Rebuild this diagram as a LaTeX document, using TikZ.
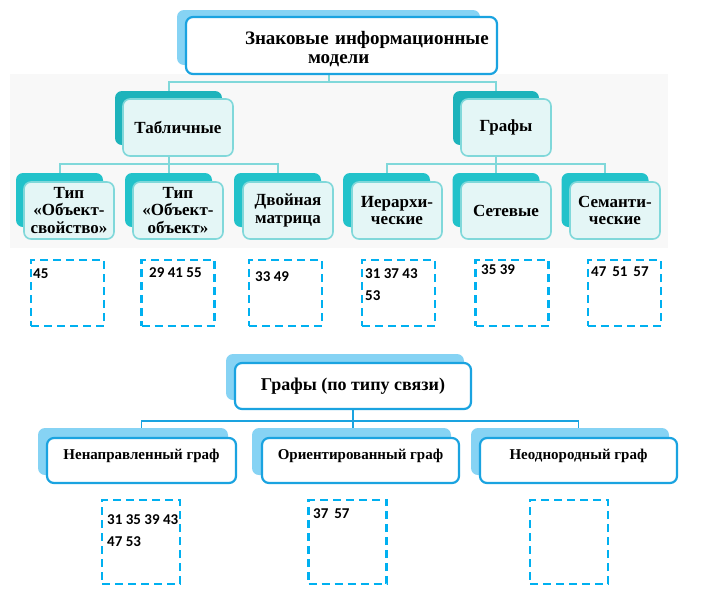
\documentclass[tikz,border=0pt]{standalone}
\usepackage{fontspec}
\setmainfont{Liberation Serif}
\newfontfamily\numfont{Carlito}
\usetikzlibrary{positioning,backgrounds}
\definecolor{cSky}{HTML}{86D3F4}
\definecolor{cBlue}{HTML}{1AA3E0}
\definecolor{cTealD}{HTML}{1DB3BB}
\definecolor{cTeal}{HTML}{22C2CA}
\definecolor{cTealL}{HTML}{80D8DA}
\definecolor{cIce}{HTML}{E4F6F6}
\definecolor{cDash}{HTML}{00B0F0}
\definecolor{cBand}{HTML}{F8F8F8}
\tikzset{
  box/.style    = {rectangle, rounded corners=7pt, inner sep=0pt, align=center},
  skyb/.style   = {box, fill=cSky},
  headb/.style  = {box, fill=white, draw=cBlue, line width=2.2pt},
  tealb/.style  = {box, fill=cTealD, minimum height=54pt},
  teal2b/.style = {box, fill=cTeal, minimum width=87pt, minimum height=54pt},
  iceb/.style   = {box, fill=cIce, draw=cTealL, line width=1.6pt,
                   minimum height=57pt, font=\fontsize{17}{17.5}\selectfont\bfseries},
  leafb/.style  = {iceb, minimum width=90pt},
  kindb/.style  = {headb, minimum width=197pt, minimum height=45pt,
                   text height=12pt, text depth=15pt,
                   font=\fontsize{15}{17}\selectfont\bfseries},
  slot/.style   = {rectangle, draw=cDash, line width=2.4pt,
                   dash pattern=on 8pt off 5pt, inner sep=0pt},
  num/.style    = {anchor=west, inner sep=0pt, align=left,
                   font=\numfont\bfseries\fontsize{15}{18}\selectfont},
  con/.style    = {draw=cTealL, line width=2pt},
  bcon/.style   = {draw=cBlue, line width=1.5pt},
}
\begin{document}
\begin{tikzpicture}[x=1pt, y=-1pt]
  \useasboundingbox (0,0) rectangle (705,590);

  % upper tree
  \node[skyb, minimum width=303pt, minimum height=55pt] (topB) at (328.5,37.5) {};
  \node[headb, minimum width=311pt, minimum height=57pt, text width=311pt, align=left,
        font=\fontsize{19}{19}\selectfont\bfseries] (top) at (341.5,45.5)
        {\rule{0pt}{21pt}\hspace*{59pt}Знаковые информационные\\\hspace*{122pt}модели};

  \node[tealb, minimum width=107pt] (tabB) at (168.5,118) {};
  \node[iceb, minimum width=110pt] (tab) at (178,127.5) {Табличные};
  \node[tealb, minimum width=86pt] (grB) at (496,118) {};
  \node[iceb, minimum width=90pt] (gr) at (506,127.5) {Графы};

  \node[teal2b] (b1) at (59.5,200) {};
  \node[leafb] (l1) at (69,210.5) {Тип\\«Объект-\\свойство»};
  \node[teal2b] (b2) at (168.5,200) {};
  \node[leafb] (l2) at (178,210.5) {Тип\\«Объект-\\объект»};
  \node[teal2b] (b3) at (277.5,200) {};
  \node[leafb] (l3) at (288,210.5) {Двойная\\матрица};
  \node[teal2b] (b4) at (386.5,200) {};
  \node[leafb] (l4) at (397,210.5) {Иерархи-\\ческие};
  \node[teal2b] (b5) at (496,200) {};
  \node[leafb] (l5) at (506,210.5) {Сетевые};
  \node[teal2b] (b6) at (605,200) {};
  \node[leafb] (l6) at (615,210.5) {Семанти-\\ческие};

  % answer slots, upper row
  \node[slot, minimum width=73pt, minimum height=66pt] (s1) at (67.5,293) {};
  \node[slot, minimum width=73pt, minimum height=66pt] (s2) at (178,293) {};
  \node[slot, minimum width=73pt, minimum height=66pt] (s3) at (285.5,293) {};
  \node[slot, minimum width=73pt, minimum height=66pt] (s4) at (398.5,293) {};
  \node[slot, minimum width=73pt, minimum height=66pt] (s5) at (512,293) {};
  \node[slot, minimum width=73pt, minimum height=66pt] (s6) at (624.5,293) {};
  \node[num] (n1) at (33,274) {45};
  \node[num] (n2) at (149,273) {29 41 55};
  \node[num] (n3) at (255,277) {33 49};
  \node[num] (n4) at (365,285) {31 37 43\\[4pt]53};
  \node[num] (n5) at (481,270) {35 39};
  \node[num] (n6) at (591,272) {47\, 51\, 57};

  % lower tree
  \node[skyb, minimum width=238pt, minimum height=46pt] (gtB) at (345,377) {};
  \node[headb, minimum width=236pt, minimum height=46pt,
        font=\fontsize{18}{18}\selectfont\bfseries] (gt) at (353,386) {\raisebox{3pt}{Графы (по типу связи)}};

  \node[skyb, minimum width=190pt, minimum height=47pt] (k1B) at (133,451.5) {};
  \node[kindb, minimum width=189pt] (k1) at (141.5,460.5) {Ненаправленный граф};
  \node[skyb, minimum width=199pt, minimum height=47pt] (k2B) at (351.5,451.5) {};
  \node[kindb] (k2) at (360.5,460.5) {Ориентированный граф};
  \node[skyb, minimum width=198pt, minimum height=47pt] (k3B) at (570,451.5) {};
  \node[kindb] (k3) at (578.5,460.5) {Неоднородный граф};

  % answer slots, lower row
  \node[slot, minimum width=78pt, minimum height=84pt] (t1) at (141,542) {};
  \node[slot, minimum width=78pt, minimum height=84pt] (t2) at (347.5,542) {};
  \node[slot, minimum width=78pt, minimum height=84pt] (t3) at (569,542) {};
  \node[num] (m1) at (107,530.5) {31 35 39 43\\[4pt]47 53};
  \node[num] (m2) at (313,514) {37\, 57};

  \begin{scope}[on background layer]
    \fill[cBand] (10,74) rectangle (668,248);
    \draw[con] (topB.center) -- ++(0,44.5);
    \draw[con] (tabB.center) -- ++(0,-36) -| (grB.center);
    \draw[con] (b1.center) -- ++(0,-36) -| (b3.center);
    \draw[con] (tabB.center) -- (b2.center);
    \draw[con] (b4.center) -- ++(0,-36) -| (b6.center);
    \draw[con] (grB.center) -- (b5.center);
    \draw[bcon] (gt.center) -- (gt.center |- k2B.north);
    \draw[bcon] (k1.center) -- ++(0,-39.5) -| (k3.center);
  \end{scope}
\end{tikzpicture}
\end{document}
